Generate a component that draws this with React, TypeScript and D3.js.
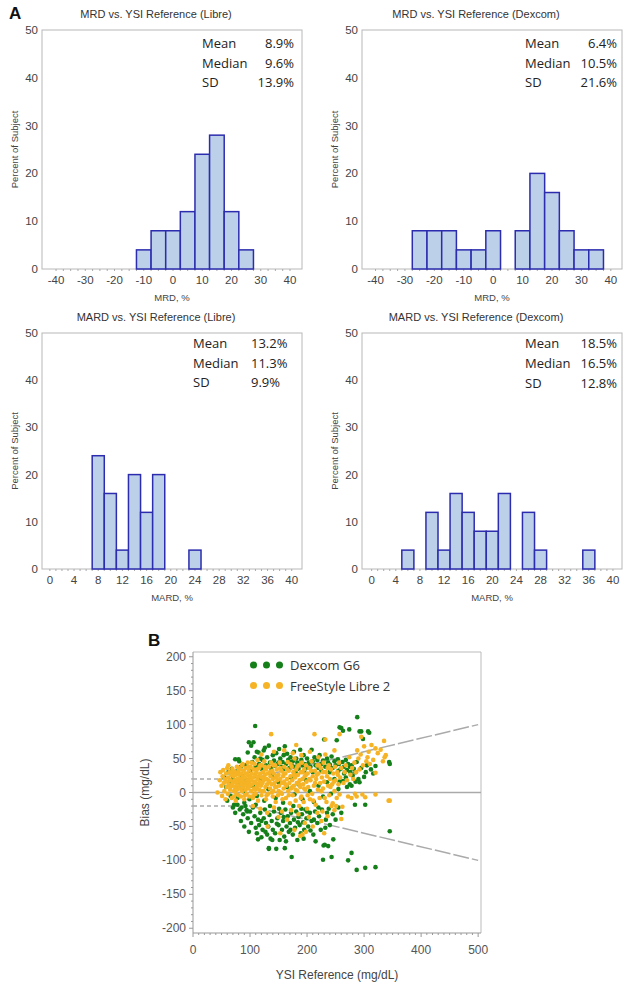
import React from "react";
import * as d3 from "d3";

// ---- panel A: histogram bins (bin centre, percent of subjects) ----
const mrdLibreBins = [-10, -5, 0, 5, 10, 15, 20, 25];
const mrdLibrePct = [4, 8, 8, 12, 24, 28, 12, 4];
const mrdDexcomBins = [-25, -20, -15, -10, -5, 0, 10, 15, 20, 25, 30, 35];
const mrdDexcomPct = [8, 8, 8, 4, 4, 8, 8, 20, 16, 8, 4, 4];
const mardLibreBins = [8, 10, 12, 14, 16, 18, 24];
const mardLibrePct = [24, 16, 4, 20, 12, 20, 4];
const mardDexcomBins = [6, 10, 12, 14, 16, 18, 20, 22, 26, 28, 36];
const mardDexcomPct = [4, 12, 4, 16, 12, 8, 8, 16, 12, 4, 4];

const mrdTicks = [-40, -30, -20, -10, 0, 10, 20, 30, 40];
const mardTicks = [0, 4, 8, 12, 16, 20, 24, 28, 32, 36, 40];
const pctTicks = [0, 10, 20, 30, 40, 50];

const statNames = ["Mean", "Median", "SD"];
const mrdLibreStats = ["8.9%", "9.6%", "13.9%"];
const mrdDexcomStats = ["6.4%", "10.5%", "21.6%"];
const mardLibreStats = ["13.2%", "11.3%", "9.9%"];
const mardDexcomStats = ["18.5%", "16.5%", "12.8%"];

// ---- panel B: bias vs YSI reference (x = YSI mg/dL, y = bias mg/dL) ----
const dexcomPoints = [
  [55, 22], [58, 8], [60, -12], [62, 30], [64, 15], [66, -5], [68, 35], [70, 20], [70, -22], [72, -18],
  [74, 49], [74, -30], [75, 5], [76, 28], [76, 31], [78, -8], [78, -18], [80, 49], [81, 46], [82, 12],
  [84, 38], [84, -42], [85, -22], [86, 25], [88, 2], [90, -15], [90, -50], [92, 40], [94, 18], [94, -26],
  [95, -28], [96, 59], [97, 8], [98, 74], [98, -58], [99, -10],
  [100, 32], [102, 69], [104, 45], [106, 74], [108, 52], [109, 98], [110, 38], [112, 60], [115, 59], [116, 42],
  [118, 50], [120, 35], [122, 48], [124, 62], [126, 66], [128, 40], [130, 52], [133, 69], [135, 44], [137, 36],
  [140, 55], [142, 47], [144, 39], [146, 58], [148, 42], [151, 64], [153, 50], [155, 38], [157, 45], [159, 55],
  [161, 68], [163, 42], [165, 57], [167, 48], [169, 36], [171, 52], [173, 40], [175, 46], [177, 60], [179, 38],
  [181, 50], [183, 44], [185, 35], [188, 63], [190, 48], [192, 40], [194, 55], [196, 42], [198, 36],
  [200, 50], [203, 44], [206, 38], [208, 63], [210, 46], [213, 52], [215, 40], [218, 48], [220, 36], [222, 55],
  [225, 42], [228, 47], [230, 78], [232, 38], [235, 50], [237, 44], [240, 41], [243, 53], [245, 36], [248, 46],
  [250, 40], [252, 77], [254, 49], [256, 42], [257, 96], [259, 35], [260, 95], [262, 45], [263, 91], [265, 38],
  [268, 48], [270, 33], [272, 42], [274, 93], [276, 30], [278, 40], [280, 25], [282, 35], [285, 16], [287, 45],
  [288, 111], [290, 20], [292, 90], [295, 90], [298, 79], [300, 23], [303, 30], [307, 90], [309, 88], [312, 34],
  [316, 28], [320, 39], [344, 45], [345, 42],
  [150, 44], [160, 35], [170, 45], [180, 30], [195, 32], [210, 30], [225, 32], [240, 30], [255, 32], [265, 28],
  [268, 22], [275, 38], [285, 30], [295, 36], [305, 40],
  [105, 10], [112, -5], [118, 20], [125, -12], [132, 5], [138, 25], [145, -8], [150, 15], [158, -15], [165, 8],
  [172, 22], [178, -3], [185, 12], [192, -10], [198, 18], [205, 2], [212, -14], [220, 10], [228, -6], [235, 15],
  [242, -2], [248, 20], [255, 5], [257, 16], [263, 17], [270, 8], [275, 12], [278, 10], [284, -18], [292, 15],
  [302, -18],
  [82, -25], [88, -32], [92, -20], [96, -38], [100, -28], [102, -45], [105, -22], [108, -35], [110, -52], [110, -18],
  [112, -60], [114, -40], [114, -69], [116, -48], [118, -30], [120, -66], [120, -42], [122, -55], [124, -38], [126, -25],
  [127, -58], [128, -45], [130, -62], [132, -50], [133, -83], [133, -82], [134, -33], [135, -20], [136, -68], [138, -42],
  [139, -70], [140, -55], [142, -28], [144, -60], [146, -83], [147, -46], [148, -38], [150, -48], [151, -24], [152, -70],
  [154, -30], [156, -55], [158, -42], [159, -36], [160, -65], [161, -82], [162, -25], [163, -72], [164, -50], [166, -35],
  [168, -58], [170, -45], [171, -55], [172, -30], [173, -95], [175, -62], [176, -20], [177, -40], [179, -52], [181, -28],
  [183, -70], [184, -44], [185, -36], [187, -48], [189, -60], [190, -24], [191, -32], [193, -44], [194, -68], [195, -55],
  [197, -25], [199, -38], [200, -28], [202, -50], [205, -30], [206, -56], [208, -42], [211, -62], [212, -40], [214, -28],
  [215, -72], [218, -45], [220, -22], [221, -35], [224, -55], [226, -25], [228, -99], [229, -78], [231, -77], [232, -52],
  [233, -40], [235, -30], [237, -79], [238, -24], [240, -48], [243, -95], [245, -32], [246, -69], [250, -40], [255, -22],
  [260, -30], [272, -100], [278, -89], [287, -114], [302, -111], [320, -110], [345, -57],
];

const librePoints = [
  [43, 0], [47, 18], [48, 30], [50, 10], [51, -5], [52, 24], [53, 33], [54, 14], [55, 2], [56, 20],
  [57, -10], [58, 28], [59, 8], [60, 36], [60, 16], [61, -2], [62, 22], [62, 40], [63, 12], [64, 30],
  [65, 4], [66, 18], [66, 8], [67, 26], [68, -8], [68, 10], [69, 35], [70, 14], [70, 30], [71, 24],
  [72, 2], [72, -6], [73, 31], [73, 18], [74, 8], [75, -12], [75, 26], [76, 14], [76, -2], [77, 38],
  [77, 4], [78, 20], [79, 30], [79, 10], [80, -4], [80, 36], [81, 16], [81, 26], [82, 6], [83, 34],
  [83, 20], [84, -6], [84, 16], [85, 12], [85, 28], [86, 40], [86, 2], [87, 18], [87, 42], [88, 24],
  [88, 8], [89, 32], [90, -10], [90, 14], [91, 22], [91, -4], [92, 4], [92, 36], [93, 28], [93, 12],
  [94, 10], [94, -2], [95, 18], [96, 44], [96, 26], [97, 6], [97, 38], [98, 14], [98, 32], [99, -6],
  [99, 22], [100, 10], [100, 24], [101, 38], [102, 18], [102, 2], [103, 28], [103, 44], [104, 12], [105, -8],
  [105, 22], [106, 34], [106, -4], [107, 6], [108, 16], [108, 42], [109, 26], [109, 4], [110, -2], [110, 14],
  [111, 30], [112, 8], [112, 34], [113, 20], [113, 48], [114, -12], [115, 24], [115, 12], [116, 4], [116, 36],
  [117, 16], [118, 28], [118, 40], [119, 10], [120, -4], [120, 22], [121, 40], [121, 2], [122, 14], [123, 30],
  [123, 22], [124, 2], [124, 18], [125, 46], [126, 26], [126, 38], [127, 8], [128, -10], [128, 34], [129, 20],
  [129, -4], [130, 12], [131, 28], [132, -2], [132, 18], [133, 38], [134, 16], [135, 6], [135, 30], [136, 24],
  [137, 86], [137, 44], [138, 12], [138, 0], [139, 32], [140, -6], [140, 20], [141, 2], [141, 40], [142, 28],
  [143, 14], [144, 40], [144, 8], [145, -14], [145, 22], [146, 8], [147, 34], [147, 24], [148, 18], [149, -4],
  [150, 26], [150, 2], [151, 10], [152, 44], [153, 20], [153, 36], [154, 0], [155, 32], [156, 14], [156, -2],
  [157, -10], [158, 24], [159, 6], [159, 28], [160, 38], [160, 16], [162, 28], [162, 12], [163, -8], [164, 10],
  [165, 20], [165, 34], [166, 45], [167, 2], [168, 32], [168, -4], [169, 14], [170, -16], [171, 24], [171, 42],
  [172, 6], [173, 38], [174, 18], [174, 8], [175, -4], [176, 30], [177, 10], [177, 26], [178, 50], [179, 22],
  [180, -12], [180, 4], [181, 34], [181, 70], [182, 14], [183, 2], [183, 38], [184, 26], [185, 40], [186, -20],
  [186, 12], [187, 18], [188, 8], [189, 30], [189, -8], [190, -6], [191, 44], [192, 20], [192, 30], [193, 12],
  [194, -14], [195, 34], [195, 6], [196, 24], [197, 4], [198, 40], [198, 26], [199, 16], [200, -24], [201, 28],
  [201, -4], [202, 8], [204, 36], [204, 20], [205, -10], [206, 18], [207, 32], [208, 46], [209, -2], [210, 24],
  [211, -12], [212, 10], [213, 86], [214, 32], [214, 14], [215, -18], [216, 20], [217, 26], [218, 40], [219, 4],
  [220, 28], [221, 40], [222, -8], [223, 14], [224, 36], [225, 2], [226, 22], [227, -28], [228, 6], [228, 30],
  [229, 44], [230, 16], [231, -8], [232, 78], [233, 30], [234, -14], [235, 24], [236, 36], [237, 10], [238, 40],
  [239, -4], [240, 20], [241, 8], [242, 34], [243, -20], [244, 12], [245, -16], [246, 28], [247, 16], [248, 2],
  [249, 38], [250, 18], [251, -20], [252, -8], [253, 30], [254, 26], [255, 12], [256, 44], [257, 86], [257, -3],
  [258, 22], [260, -39], [260, 36], [262, -21], [264, 14], [266, 30], [268, 40], [270, 18], [272, -6], [274, 52],
  [276, 26], [278, -8], [279, 36], [281, 20], [283, 44], [284, -2], [286, 30], [287, -6], [288, 62], [290, 50],
  [292, 34], [294, 56], [295, 82], [297, -3], [298, 40], [300, 68], [302, -7], [304, 46], [306, 52], [308, 60],
  [310, 42], [313, 70], [316, 48], [320, 65], [320, 29], [320, -3], [324, 58], [329, 63], [333, 46], [335, 76],
  [336, 52], [338, 55], [343, -12], [345, -12],
  [105, -20], [118, -24], [130, -30], [131, -50], [142, -22], [150, -36], [153, -60], [156, -28], [165, -40], [172, -26],
  [178, -55], [185, -32], [188, -64], [192, -62], [196, -45], [198, -58], [203, -36], [210, -50], [218, -30], [225, -42],
  [230, -60], [236, -35], [248, -26],
  [120, 56], [142, 60], [160, 62], [175, 58], [190, 55], [205, 60], [220, 52], [232, 56], [248, 62],
];

const zeroRef = [0];
const bandMg = [20, -20];
const bandPct = [0.2, -0.2];
const xTicksB = [0, 100, 200, 300, 400, 500];
const yTicksB = [-200, -150, -100, -50, 0, 50, 100, 150, 200];
const seriesNames = ["Dexcom G6", "FreeStyle Libre 2"];
const seriesColors = ["#15801a", "#f5b325"];

const AXIS_FONT = "'Liberation Sans', Arial, sans-serif";
const STAT_FONT = "'Open Sans', sans-serif";

type HistProps = {
  x0: number; y0: number; w: number; h: number;
  xDomain: [number, number]; xTicks: number[]; minorStep: number; binW: number;
  bins: number[]; pct: number[]; title: string; xLabel: string; stats: string[];
  statX: number; valX: number; valAnchor: "start" | "end"; statY: number[];
};

function Hist(p: HistProps) {
  const x = d3.scaleLinear().domain(p.xDomain).range([p.x0, p.x0 + p.w]);
  const y = d3.scaleLinear().domain([0, 50]).range([p.y0 + p.h, p.y0]);
  const minor = d3.range(p.xTicks[0], p.xTicks[p.xTicks.length - 1] + 0.001, p.minorStep);
  const bottom = p.y0 + p.h;
  return (
    <g>
      <text x={(p.x0 - 32 + p.x0 + p.w) / 2} y={p.y0 - 12} textAnchor="middle" fontSize={11} fill="#333" fontFamily={AXIS_FONT}>{p.title}</text>
      <rect x={p.x0} y={p.y0} width={p.w} height={p.h} fill="#fff" stroke="#b8b8b8" />
      {minor.map((m, i) => (
        <line key={"m" + i} x1={x(m)} x2={x(m)} y1={bottom} y2={bottom + 2} stroke="#aaa" />
      ))}
      {p.bins.map((c, i) => (
        <rect key={i} x={x(c - p.binW / 2)} width={x(c + p.binW / 2) - x(c - p.binW / 2)}
          y={y(p.pct[i])} height={y(0) - y(p.pct[i])} fill="#bdd0ea" stroke="#2c2cae" strokeWidth={1.5} />
      ))}
      {pctTicks.map(t => (
        <text key={t} x={p.x0 - 4} y={y(t) + 4} textAnchor="end" fontSize={11.5} fill="#444" fontFamily={AXIS_FONT}>{t}</text>
      ))}
      {p.xTicks.map(t => (
        <text key={t} x={x(t)} y={bottom + 15} textAnchor="middle" fontSize={11.5} fill="#444" fontFamily={AXIS_FONT}>{t}</text>
      ))}
      <text x={p.x0 + p.w / 2} y={bottom + 32} textAnchor="middle" fontSize={9.5} fill="#444" fontFamily={AXIS_FONT}>{p.xLabel}</text>
      <text transform={`translate(${p.x0 - 24},${p.y0 + p.h / 2}) rotate(-90)`} textAnchor="middle" fontSize={9.5} fill="#444" fontFamily={AXIS_FONT}>Percent of Subject</text>
      {statNames.map((s, i) => (
        <g key={s}>
          <text x={p.statX} y={p.y0 + p.statY[i] + 5} fontSize={13} fill="#222" fontFamily={STAT_FONT}>{s}</text>
          <text x={p.valX} y={p.y0 + p.statY[i] + 5} fontSize={13} fill="#222" textAnchor={p.valAnchor} fontFamily={STAT_FONT}>{p.stats[i]}</text>
        </g>
      ))}
    </g>
  );
}

function BlandAltman() {
  const x = d3.scaleLinear().domain([0, 505]).range([193, 481]);
  const y = d3.scaleLinear().domain([-207, 207]).range([933, 652]);
  const minorX = d3.range(0, 501, 10);
  const minorY = d3.range(-200, 201, 10);
  return (
    <g>
      <text x={148} y={646} fontSize={17} fontWeight="bold" fontFamily={AXIS_FONT} fill="#111">B</text>
      <line x1={x(505)} x2={x(505)} y1={y(207)} y2={y(-207)} stroke="#bbb" />
      <line x1={x(0)} x2={x(505)} y1={y(207)} y2={y(207)} stroke="#bbb" />
      <line x1={x(0)} x2={x(0)} y1={y(207)} y2={y(-207)} stroke="#999" />
      <line x1={x(0)} x2={x(505)} y1={y(-207)} y2={y(-207)} stroke="#999" />
      {minorX.map(v => (
        <line key={"mx" + v} x1={x(v)} x2={x(v)} y1={y(-207)} y2={y(-207) + (v % 100 === 0 ? 4 : 2)} stroke="#999" />
      ))}
      {minorY.map(v => (
        <line key={"my" + v} x1={x(0)} x2={x(0) - (v % 50 === 0 ? 4 : 2)} y1={y(v)} y2={y(v)} stroke="#999" />
      ))}
      {xTicksB.map(t => (
        <text key={t} x={x(t)} y={954} textAnchor="middle" fontSize={12} fill="#555" fontFamily={AXIS_FONT}>{t}</text>
      ))}
      {yTicksB.map(t => (
        <text key={t} x={x(0) - 7} y={y(t) + 4} textAnchor="end" fontSize={12} fill="#555" fontFamily={AXIS_FONT}>{t}</text>
      ))}
      <text x={(x(0) + x(505)) / 2} y={979} textAnchor="middle" fontSize={12} fill="#444" fontFamily={AXIS_FONT}>YSI Reference (mg/dL)</text>
      <text transform={`translate(${149},${y(0)}) rotate(-90)`} textAnchor="middle" fontSize={12} fill="#444" fontFamily={AXIS_FONT}>Bias (mg/dL)</text>
      {zeroRef.map(z => (
        <line key={"z" + z} x1={x(0)} x2={x(505)} y1={y(z)} y2={y(z)} stroke="#aaa" strokeWidth={1.5} />
      ))}
      {bandMg.map(b => (
        <line key={"b" + b} x1={x(0)} x2={x(100)} y1={y(b)} y2={y(b)} stroke="#aaa" strokeWidth={1.5} strokeDasharray="4,3" />
      ))}
      {bandPct.map(f => (
        <line key={"f" + f} x1={x(100)} x2={x(500)} y1={y(100 * f)} y2={y(500 * f)} stroke="#aaa" strokeWidth={1.5} strokeDasharray="16,3" />
      ))}
      {dexcomPoints.map((d, i) => (
        <circle key={"d" + i} cx={x(d[0])} cy={y(d[1])} r={2.3} fill={seriesColors[0]} />
      ))}
      {librePoints.map((d, i) => (
        <circle key={"l" + i} cx={x(d[0])} cy={y(d[1])} r={2.3} fill={seriesColors[1]} />
      ))}
      {seriesNames.map((s, i) => (
        <g key={s}>
          {[0, 1, 2].map(k => (
            <circle key={k} cx={253.5 + k * 13} cy={665 + i * 20.5} r={3.5} fill={seriesColors[i]} />
          ))}
          <text x={290} y={670 + i * 20.5} fontSize={13} fill="#333" fontFamily={STAT_FONT}>{s}</text>
        </g>
      ))}
    </g>
  );
}

export default function App() {
  return (
    <svg width={631} height={989} style={{ position: "absolute", left: 0, top: 0, background: "#fff" }}>
      <rect width={631} height={989} fill="#fff" />
      <text x={9} y={19} fontSize={17} fontWeight="bold" fontFamily={AXIS_FONT} fill="#111">A</text>
      <Hist x0={42} y0={30} w={260} h={239} xDomain={[-44.8, 44.1]} xTicks={mrdTicks} minorStep={2.5} binW={5}
        bins={mrdLibreBins} pct={mrdLibrePct} title="MRD vs. YSI Reference (Libre)" xLabel="MRD, %"
        stats={mrdLibreStats} statX={202} valX={294} valAnchor="end" statY={[13, 33, 52]} />
      <Hist x0={362} y0={30} w={260} h={239} xDomain={[-44.6, 43.8]} xTicks={mrdTicks} minorStep={2.5} binW={5}
        bins={mrdDexcomBins} pct={mrdDexcomPct} title="MRD vs. YSI Reference (Dexcom)" xLabel="MRD, %"
        stats={mrdDexcomStats} statX={525} valX={617} valAnchor="end" statY={[13, 33, 52]} />
      <Hist x0={42} y0={333} w={260} h={236} xDomain={[-1.3, 41.7]} xTicks={mardTicks} minorStep={1} binW={2}
        bins={mardLibreBins} pct={mardLibrePct} title="MARD vs. YSI Reference (Libre)" xLabel="MARD, %"
        stats={mardLibreStats} statX={193} valX={251} valAnchor="start" statY={[10, 30, 49]} />
      <Hist x0={362} y0={333} w={260} h={236} xDomain={[-1.6, 41.5]} xTicks={mardTicks} minorStep={1} binW={2}
        bins={mardDexcomBins} pct={mardDexcomPct} title="MARD vs. YSI Reference (Dexcom)" xLabel="MARD, %"
        stats={mardDexcomStats} statX={525} valX={617} valAnchor="end" statY={[10, 30, 50]} />
      <BlandAltman />
    </svg>
  );
}
